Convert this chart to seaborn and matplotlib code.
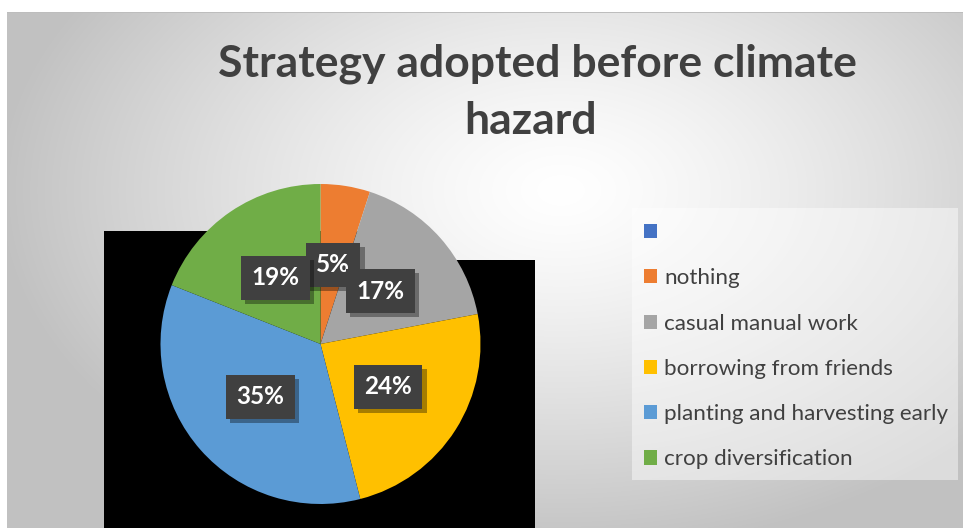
import numpy as np
import matplotlib
matplotlib.use("Agg")
import matplotlib.pyplot as plt
import matplotlib.patheffects as pe
from matplotlib.patches import Polygon, Rectangle, Patch
import seaborn as sns

# Survey responses: share of households by strategy
categories = ["", "nothing", "casual manual work", "borrowing from friends",
              "planting and harvesting early", "crop diversification"]
shares = [0, 5, 17, 24, 35, 19]
colors = ["#4472C4", "#ED7D31", "#A5A5A5", "#FFC000", "#5B9BD5", "#70AD47"]
title_lines = ["Strategy adopted before climate", "hazard"]

sns.set_theme(style="white")
plt.rcParams["font.family"] = ["Lato", "DejaVu Sans"]

W, H = 963, 528
fig = plt.figure(figsize=(W / 100, H / 100), dpi=100)
fig.patch.set_facecolor("white")

def fx(px):
    return px / W

def fy(py):
    return 1 - py / H

# Soft radial background of the chart area
bg = fig.add_axes([fx(7), 0, 1 - fx(7), fy(12)], zorder=-3)
bg.set_axis_off()
yy, xx = np.mgrid[12:H, 7:W]
d = np.sqrt(((xx - 560) / 560.0) ** 2 + ((yy - 190) / 360.0) ** 2)
g = 1.0 - 0.24 * np.clip(d, 0, 1) ** 1.3
bg.imshow(np.dstack([g, g, g]), aspect="auto", extent=(0, 1, 0, 1), origin="upper")
bg.set_xlim(0, 1)
bg.set_ylim(0, 1)
fig.add_artist(Rectangle((fx(7), fy(13)), 1 - fx(7), 1.5 / H, transform=fig.transFigure,
                         facecolor="#bdbdbd", edgecolor="none", zorder=-2))

# Dark block behind the pie
fig.add_artist(Polygon([(fx(104), 0), (fx(104), fy(231)), (fx(420), fy(231)), (fx(420), fy(260)),
                        (fx(535), fy(260)), (fx(535), 0)], closed=True,
                       transform=fig.transFigure, facecolor="black", edgecolor="none",
                       zorder=-2))

# Pie
cx, cy, r = 320.5, 344, 160
ax = fig.add_axes([fx(cx - r), fy(cy + r), 2 * r / W, 2 * r / H], zorder=0)
ax.patch.set_visible(False)
wedges, _, autotexts = ax.pie(
    shares, colors=colors, startangle=90, counterclock=False,
    autopct=lambda p: f"{p:.0f}%" if p > 0.5 else "", pctdistance=0.5,
    wedgeprops=dict(linewidth=0),
    textprops=dict(color="white", fontsize=17.5, fontweight="bold"),
)
ax.set_xlim(-1, 1)
ax.set_ylim(-1, 1)
ax.set_aspect("equal")
ax.set_axis_off()

order = {"5%": 1, "19%": 2, "17%": 3}
for t in autotexts:
    if not t.get_text():
        continue
    t.set_bbox(dict(boxstyle="square,pad=0.43", facecolor="#404040", edgecolor="none"))
    t.get_bbox_patch().set_path_effects([
        pe.SimplePatchShadow(offset=(3, -3), shadow_rgbFace="black", alpha=0.35), pe.Normal()])
    t.set_zorder(5 + order.get(t.get_text(), 0))

# Title
fig.text(fx(537), fy(64), title_lines[0], ha="center", va="center",
         fontsize=32, fontweight="bold", color="#404040")
fig.text(fx(531), fy(121), title_lines[1], ha="center", va="center",
         fontsize=32, fontweight="bold", color="#404040")

# Legend panel
fig.add_artist(Rectangle((fx(632), fy(480)), fx(958 - 632), (480 - 208) / H,
                         transform=fig.transFigure, facecolor="white", alpha=0.45,
                         edgecolor="none", zorder=-1))
handles = [Patch(facecolor=c, edgecolor="none") for c in colors]
leg = fig.legend(handles, categories, loc="upper left",
                 bbox_to_anchor=(fx(644), fy(223)), frameon=False,
                 fontsize=16.1, handlelength=0.6, handleheight=0.6,
                 handletextpad=0.3, labelspacing=1.13, borderaxespad=0, borderpad=0)
for txt in leg.get_texts():
    txt.set_color("#404040")

fig.savefig("out.png", dpi=100)
